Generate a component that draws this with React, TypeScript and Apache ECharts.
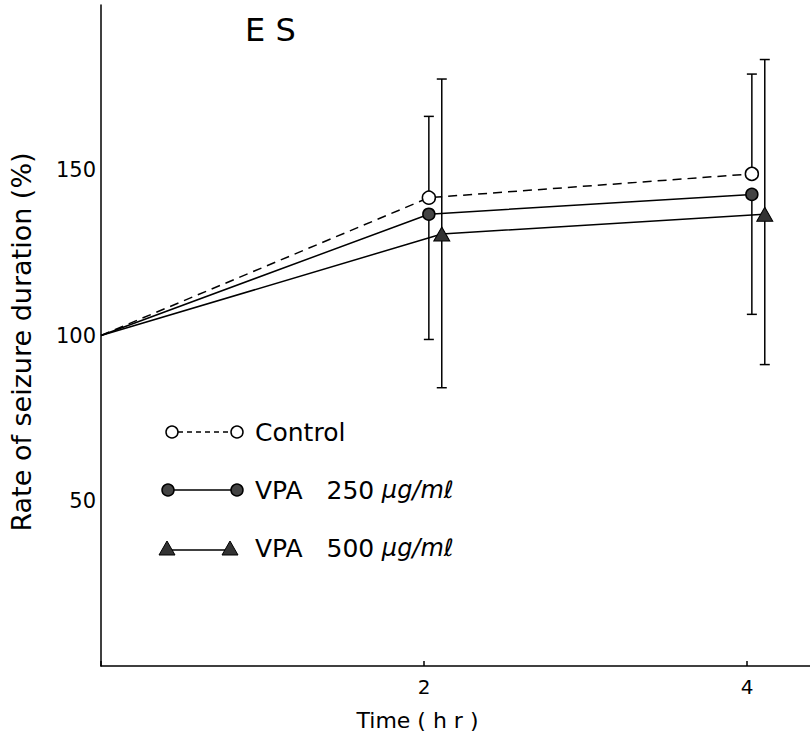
import React, { useEffect, useRef } from "react";
import * as echarts from "echarts";

// ---- data ----
const controlX = [0, 2.03, 4.03];
const controlY = [100, 141.7, 148.9];
const controlErrHigh = [166.3, 179.1]; // upper SD at 2 and 4 hr

const vpa250X = [0, 2.03, 4.03];
const vpa250Y = [100, 136.7, 142.7];
const vpa250ErrLow = [98.8, 106.4]; // lower SD at 2 and 4 hr

const vpa500X = [0, 2.11, 4.11];
const vpa500Y = [100, 130.7, 136.7];
const vpa500ErrLow = [84.2, 91.2];
const vpa500ErrHigh = [177.6, 183.5];

const yTickLabels = [50, 100, 150];
const xTickLabels = [2, 4];

const legendNames = ["Control", "VPA", "VPA"];
const legendDoses = ["", "250", "500"];
const doseUnit = "μg/mℓ";

const FONT = "DejaVu Sans";

function makeLine(xs: number[], ys: number[]) {
  return xs.map((x, i) =>
    i === 0 ? { value: [x, ys[i]], symbol: "none" } : { value: [x, ys[i]] }
  );
}

export default function App() {
  const ref = useRef<HTMLDivElement>(null);
  useEffect(() => {
    if (!ref.current) return;
    const chart = echarts.init(ref.current, null, { renderer: "svg" });

    const errData: number[][] = [];
    for (let i = 0; i < 2; i++) {
      errData.push([controlX[i + 1], controlY[i + 1], controlErrHigh[i]]);
      errData.push([vpa250X[i + 1], vpa250ErrLow[i], vpa250Y[i + 1]]);
      errData.push([vpa500X[i + 1], vpa500ErrLow[i], vpa500ErrHigh[i]]);
    }

    const legendRows = [432, 490, 548];
    const graphics: any[] = [];
    // row 1: control (open circles, dashed)
    graphics.push({
      type: "line",
      shape: { x1: 178, y1: legendRows[0], x2: 231, y2: legendRows[0] },
      style: { stroke: "#000", lineWidth: 1.5, lineDash: [5, 4] },
    });
    [172, 237].forEach((cx) =>
      graphics.push({
        type: "circle",
        shape: { cx, cy: legendRows[0], r: 6 },
        style: { fill: "#fff", stroke: "#000", lineWidth: 1.5 },
      })
    );
    // row 2: VPA 250 (filled circles)
    graphics.push({
      type: "line",
      shape: { x1: 168, y1: legendRows[1], x2: 237, y2: legendRows[1] },
      style: { stroke: "#000", lineWidth: 1.5 },
    });
    [168, 237].forEach((cx) =>
      graphics.push({
        type: "circle",
        shape: { cx, cy: legendRows[1], r: 6 },
        style: { fill: "#444", stroke: "#000", lineWidth: 1.5 },
      })
    );
    // row 3: VPA 500 (triangles)
    graphics.push({
      type: "line",
      shape: { x1: 167, y1: legendRows[2] + 2, x2: 230, y2: legendRows[2] + 2 },
      style: { stroke: "#000", lineWidth: 1.5 },
    });
    [167, 230].forEach((cx) =>
      graphics.push({
        type: "polygon",
        shape: {
          points: [
            [cx - 8, legendRows[2] + 7],
            [cx + 8, legendRows[2] + 7],
            [cx, legendRows[2] - 7],
          ],
        },
        style: { fill: "#333", stroke: "#000", lineWidth: 1 },
      })
    );
    legendRows.forEach((y, i) => {
      graphics.push({
        type: "text",
        x: 255,
        y,
        style: {
          text:
            i === 0
              ? "{a|" + legendNames[i] + "}"
              : "{a|" + legendNames[i] + "   " + legendDoses[i] + "}{u| " + doseUnit + "}",
          verticalAlign: "middle",
          align: "left",
          fill: "#000",
          rich: {
            a: { fontFamily: FONT, fontSize: 25, fill: "#000" },
            u: { fontFamily: FONT, fontSize: 24, fontStyle: "italic", fill: "#000" },
          },
        },
      });
    });

    chart.setOption({
      animation: false,
      backgroundColor: "#fff",
      title: {
        text: "E S",
        left: 240,
        top: 9,
        textStyle: { fontFamily: FONT, fontSize: 32, fontWeight: "normal", color: "#000" },
      },
      grid: { left: 98, top: 5, right: 0, bottom: 69, containLabel: false },
      xAxis: {
        type: "value",
        min: 0,
        max: 4.39,
        interval: 2,
        splitLine: { show: false },
        axisLine: { lineStyle: { color: "#000", width: 1.5 } },
        axisTick: { show: true, inside: true, length: 5, lineStyle: { color: "#000", width: 1.5 } },
        axisLabel: {
          margin: 11,
          fontFamily: FONT,
          fontSize: 20,
          color: "#000",
          showMaxLabel: false,
          formatter: (v: number) => (xTickLabels.includes(v) ? String(v) : ""),
        },
        name: "Time ( h r )",
        nameLocation: "middle",
        nameGap: 43,
        nameTextStyle: {
          fontFamily: FONT,
          fontSize: 22,
          color: "#000",
          padding: [0, 76, 0, 0],
        },
      },
      yAxis: {
        type: "value",
        min: 0,
        max: 200,
        interval: 50,
        splitLine: { show: false },
        axisLine: { lineStyle: { color: "#000", width: 1.5 } },
        axisTick: { show: false },
        axisLabel: {
          margin: 5,
          fontFamily: FONT,
          fontSize: 21,
          color: "#000",
          formatter: (v: number) => (yTickLabels.includes(v) ? String(v) : ""),
        },
        name: "Rate of seizure duration (%)",
        nameLocation: "middle",
        nameGap: 66,
        nameTextStyle: { fontFamily: FONT, fontSize: 27, color: "#000", padding: [0, 13, 0, 0] },
      },
      graphic: graphics,
      series: [
        {
          type: "custom",
          z: 1,
          data: errData,
          encode: { x: 0, y: [1, 2] },
          renderItem: (params: any, api: any) => {
            const x = api.value(0);
            const lo = api.coord([x, api.value(1)]);
            const hi = api.coord([x, api.value(2)]);
            const w = 5;
            const st = { stroke: "#000", lineWidth: 1.5 };
            return {
              type: "group",
              children: [
                { type: "line", shape: { x1: lo[0], y1: lo[1], x2: hi[0], y2: hi[1] }, style: st },
                { type: "line", shape: { x1: lo[0] - w, y1: lo[1], x2: lo[0] + w, y2: lo[1] }, style: st },
                { type: "line", shape: { x1: hi[0] - w, y1: hi[1], x2: hi[0] + w, y2: hi[1] }, style: st },
              ],
            };
          },
        },
        {
          type: "line",
          name: "Control",
          z: 3,
          data: makeLine(controlX, controlY),
          symbol: "circle",
          symbolSize: 13,
          lineStyle: { color: "#000", width: 1.5, type: [9, 6] },
          itemStyle: { color: "#fff", borderColor: "#000", borderWidth: 1.5 },
        },
        {
          type: "line",
          name: "VPA 250",
          z: 3,
          data: makeLine(vpa250X, vpa250Y),
          symbol: "circle",
          symbolSize: 12,
          lineStyle: { color: "#000", width: 1.5 },
          itemStyle: { color: "#444", borderColor: "#000", borderWidth: 1.5 },
        },
        {
          type: "line",
          name: "VPA 500",
          z: 3,
          data: makeLine(vpa500X, vpa500Y),
          symbol: "triangle",
          symbolSize: [16, 14],
          lineStyle: { color: "#000", width: 1.5 },
          itemStyle: { color: "#333", borderColor: "#000", borderWidth: 1 },
        },
      ],
    });
    return () => chart.dispose();
  }, []);

  return (
    <div
      ref={ref}
      style={{ position: "absolute", left: 0, top: 0, width: 810, height: 736, background: "#fff" }}
    />
  );
}
